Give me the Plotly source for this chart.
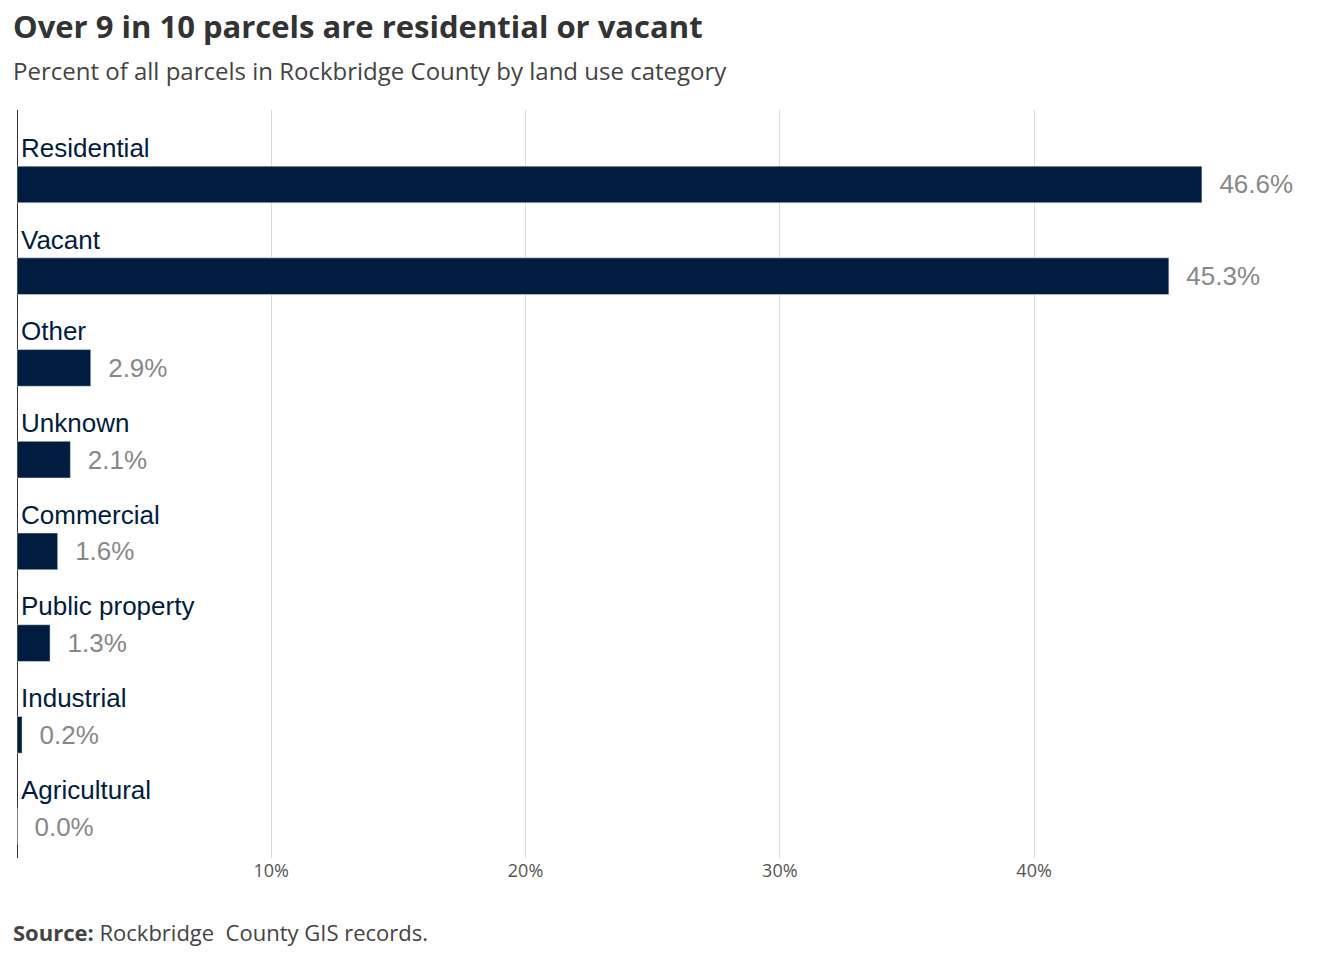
import plotly.graph_objects as go

categories = ["Residential", "Vacant", "Other", "Unknown", "Commercial", "Public property", "Industrial", "Agricultural"]
values = [46.6, 45.3, 2.9, 2.1, 1.6, 1.3, 0.2, 0.0]
tick_vals = [0, 10, 20, 30, 40]
tick_text = ["0%", "10%", "20%", "30%", "40%"]

navy = "#001d40"
idx = list(range(len(categories)))

fig = go.Figure(go.Bar(
    x=values, y=idx, orientation="h", width=0.4,
    marker=dict(color=navy),
    text=[f"  {v:.1f}%" for v in values], textposition="outside",
    textfont=dict(family="Liberation Sans, Arial", size=26, color="#888888"),
    cliponaxis=False, hoverinfo="skip",
))
for i, c in enumerate(categories):
    fig.add_annotation(x=0, y=i - 0.4, xref="x", yref="y", text=c, showarrow=False,
                       xanchor="left", xshift=2,
                       font=dict(family="Liberation Sans, Arial", size=26, color=navy))

fig.update_layout(
    width=1328, height=950, plot_bgcolor="white", paper_bgcolor="white",
    margin=dict(l=9, r=40, t=102, b=100), showlegend=False,
    xaxis=dict(range=[0, 50.3], tickvals=tick_vals, ticktext=tick_text, showgrid=True,
               gridcolor="#d9d9d9", zeroline=True, zerolinecolor="#333333", zerolinewidth=1,
               tickfont=dict(family="Open Sans", size=18, color="#555555"), fixedrange=True),
    yaxis=dict(range=[7.343, -0.812], showticklabels=False, showgrid=False, zeroline=False),
)
fig.add_annotation(text="<b>Over 9 in 10 parcels are residential or vacant</b>", xref="paper", yref="paper",
                   x=-0.005, y=1.0, yshift=84, xanchor="left", yanchor="middle", showarrow=False,
                   font=dict(family="Open Sans", size=31, color="#333333"))
fig.add_annotation(text="Percent of all parcels in Rockbridge County by land use category", xref="paper", yref="paper",
                   x=-0.005, y=1.0, yshift=40, xanchor="left", yanchor="middle", showarrow=False,
                   font=dict(family="Open Sans", size=24, color="#444444"))
fig.add_annotation(text="<b>Source:</b> Rockbridge  County GIS records.", xref="paper", yref="paper",
                   x=-0.005, y=0, yshift=-74, xanchor="left", yanchor="middle", showarrow=False,
                   font=dict(family="Open Sans", size=22, color="#444444"))
fig.write_html("out.html")
